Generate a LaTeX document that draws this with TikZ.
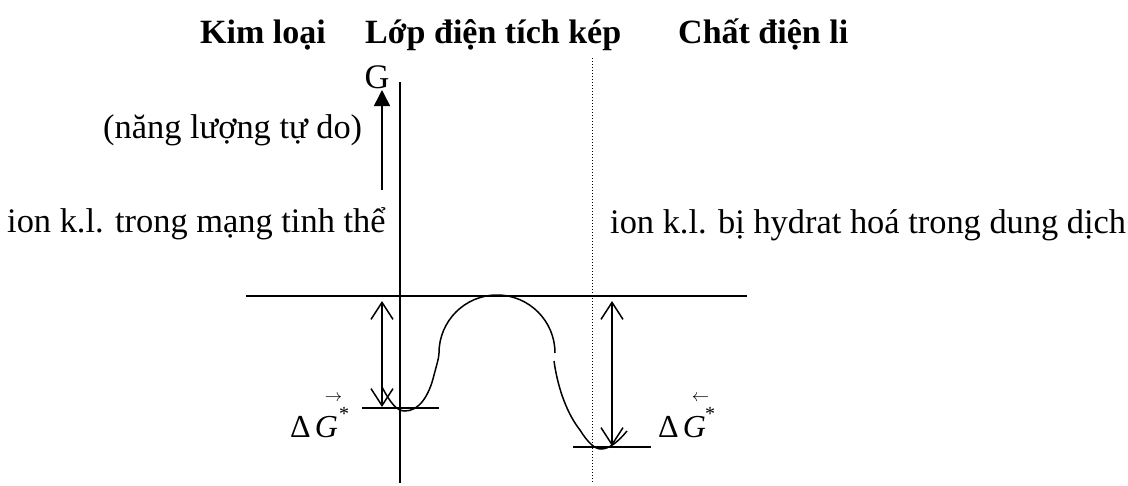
\documentclass[tikz,border=0pt]{standalone}
\usepackage{fontspec}
\setmainfont{Liberation Serif}
\usetikzlibrary{arrows.meta}
\tikzset{
  txt/.style={inner sep=0pt, font=\fontsize{34.4}{40}\selectfont},
  ttl/.style={inner sep=0pt, font=\fontsize{34}{40}\selectfont\bfseries},
  dg/.style={inner sep=0pt, font=\fontsize{32}{36}\selectfont},
  sm/.style={inner sep=0pt, font=\fontsize{20}{22}\selectfont},
  ln/.style={line width=1.5pt},
  dbl/.style={line width=1.5pt, {Straight Barb[length=17pt,width=22pt,line width=1.5pt]}-{Straight Barb[length=17pt,width=22pt,line width=1.5pt]}},
  garrow/.style={line width=1.5pt, -{Triangle[length=16pt,width=16pt]}},
  curve/.style={line width=1.5pt, line join=round}
}
\begin{document}
\begin{tikzpicture}[x=1pt,y=-1pt]
\useasboundingbox (0,0) rectangle (1128,485);
% titles
\node[ttl, anchor=base west] (t1) at (200,43) {Kim loại};
\node[ttl, anchor=base west] (t2) at (365,43) {Lớp điện tích kép};
\node[ttl, anchor=base west] (t3) at (678,43) {Chất điện li};
% labels
\node[txt, anchor=base] (g) at (377,88) {G};
\node[txt, anchor=base west] (nl) at (103,138) {(năng lượng tự do)};
\node[txt, anchor=base west] (l1) at (7,232) {ion k.l. trong mạng tinh thể};
\node[txt, anchor=base west] (l2) at (610,233) {ion k.l. bị hydrat hoá trong dung dịch};
% axes and guide lines
\coordinate (ax1) at (400,82);
\coordinate (ax2) at (400,483);
\draw[ln] (ax1) -- (ax2);
\coordinate (d1) at (592,58);
\coordinate (d2) at (592,483);
\draw[line width=1pt, dash pattern=on 1pt off 2pt] (d1) -- (d2);
\coordinate (ga1) at (382,190);
\coordinate (ga2) at (382,90);
\draw[garrow] (ga1) -- (ga2);
\coordinate (h1) at (246,296);
\coordinate (h2) at (747,296);
\draw[ln] (h1) -- (h2);
\coordinate (hl1) at (362,408);
\coordinate (hl2) at (439,408);
\draw[ln] (hl1) -- (hl2);
\coordinate (hr1) at (573,447);
\coordinate (hr2) at (651,447);
\draw[ln] (hr1) -- (hr2);
% double arrows
\coordinate (a1) at (382,301);
\coordinate (a2) at (382,407);
\draw[dbl] (a1) -- (a2);
\coordinate (b1) at (612,301);
\coordinate (b2) at (612,446);
\draw[dbl] (b1) -- (b2);
% energy curve
\coordinate (c0) at (382,387);
\coordinate (cmin) at (405,411);
\coordinate (c1) at (434,375);
\coordinate (c2) at (439,353);
\draw[curve] (c0) .. controls (391,404) and (397,411) .. (cmin)
  .. controls (419,411) and (429,396) .. (c1)
  .. controls (437,364) and (439,357) .. (c2)
  arc[start angle=180, end angle=360, radius=58];
\coordinate (r0) at (554,361);
\coordinate (r1) at (580,430);
\coordinate (rmin) at (601,449);
\coordinate (r2) at (627,431);
\draw[curve] (r0) .. controls (558,390) and (568,415) .. (r1)
  .. controls (588,443) and (595,449) .. (rmin)
  .. controls (609,449) and (618,442) .. (r2);
% Delta G labels
\node[dg, anchor=base west] (dgl) at (290,437) {Δ\hspace{4pt}\textit{G}};
\node[sm] (sl) at (344,414) {*};
\node[inner sep=0pt, font=\fontsize{17}{17}\selectfont] (al) at (333.5,398) {$\rightarrow$};
\node[dg, anchor=base west] (dgr) at (658,437) {Δ\hspace{4pt}\textit{G}};
\node[sm] (sr) at (710,414) {*};
\node[inner sep=0pt, font=\fontsize{17}{17}\selectfont] (ar) at (700.5,398) {$\leftarrow$};
\end{tikzpicture}
\end{document}
